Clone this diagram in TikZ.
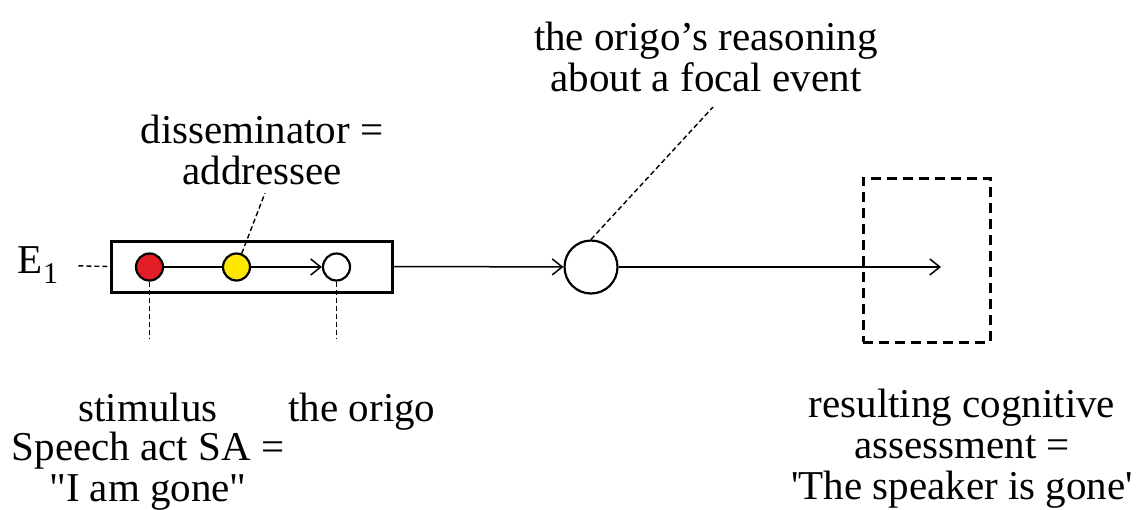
\documentclass[tikz,border=0pt]{standalone}
\usepackage{fontspec}
\setmainfont{Liberation Serif}[Ligatures=TeXOff]
\usepackage{xcolor}
\usepackage{tikz}
\usetikzlibrary{arrows.meta,positioning}

\definecolor{stimred}{RGB}{228,30,38}
\definecolor{addryellow}{RGB}{255,232,0}

\begin{document}
\begin{tikzpicture}[
    x=0.5pt, y=-0.5pt,
    node distance=1pt,
    txt/.style={align=center, inner sep=0pt, font=\rmfamily\fontsize{20.5}{20.5}\selectfont},
    dot/.style={circle, draw, line width=1.1pt, minimum size=13.5pt, inner sep=0pt},
    arr/.style={-{Straight Barb[length=5pt,width=8pt]}, line width=0.75pt},
    lead/.style={dash pattern=on 2.5pt off 1.5pt, line width=0.7pt}
  ]
    \useasboundingbox (0,0) rectangle (1144,509);
    % event E1
    \node[draw, line width=1.5pt, minimum width=140.5pt, minimum height=25.5pt, inner sep=0pt] (evbox) at (251.5,266.5) {};
    \node[dot, fill=stimred] (stim) at (149.5,267) {};
    \node[dot, fill=addryellow] (addr) at (236.5,267) {};
    \node[dot] (origo) at (336.5,267) {};
    \node[circle, draw, line width=1.1pt, minimum size=26.5pt, inner sep=0pt] (focal) at (591,267) {};
    \node[draw, line width=1.5pt, dash pattern=on 5pt off 3pt, minimum width=63.5pt, minimum height=82pt, inner sep=0pt] (result) at (926.5,260) {};
    \coordinate (arrend) at (941,267);
    \coordinate (addrend) at (265,193);
    \coordinate (stimend) at (149.5,338);
    \coordinate (origoend) at (336.5,338);
    \coordinate (focalend) at (713,107);

    % labels
    \node[txt] (e1) at (38,265) {E\raisebox{-0.5ex}{\fontsize{15}{15}\selectfont 1}};
    \node[txt] (addrlbl) at (262,150) {disseminator =\\addressee};
    \node[txt] (focallbl) at (706,57) {the origo’s reasoning\\about a focal event};
    \node[txt, anchor=base] (stimlbl) at (148,421) {stimulus};
    \node[txt, anchor=base] (origolbl) at (362,421) {the origo};
    \node[txt, below=5pt of stimlbl.south] (salbl) {Speech act SA =\\"I am gone"};
    \node[txt] (reslbl) at (962,449) {resulting cognitive\\assessment =\\'The speaker is gone'};

    % connectors
    \draw[line width=0.75pt] (stim) -- (addr);
    \draw[arr] (addr) -- (origo);
    \draw[arr] (evbox.east) -- (focal);
    \draw[arr] (focal) -- (arrend);
    \draw[lead, shorten <=10pt] (e1) -- (evbox.west);
    \draw[lead] (addr) -- (addrend);
    \draw[lead] (stim) -- (stimend);
    \draw[lead] (origo) -- (origoend);
    \draw[lead] (focal.north) -- (focalend);
  \end{tikzpicture}
\end{document}
